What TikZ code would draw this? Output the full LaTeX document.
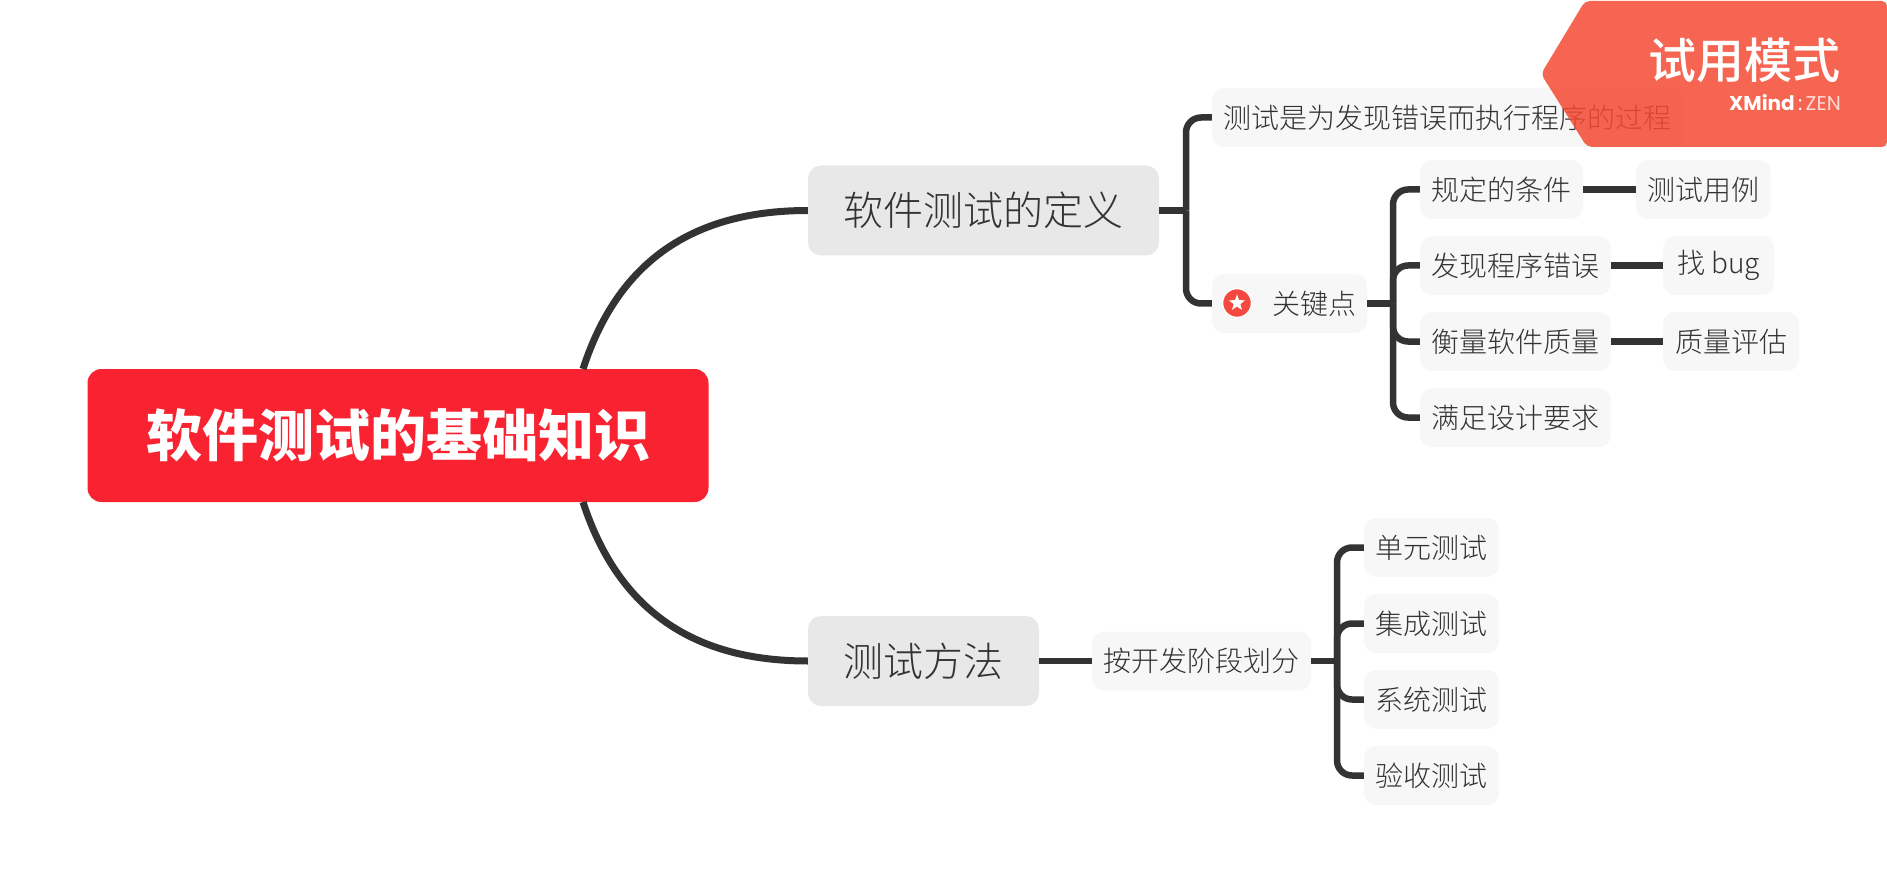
\documentclass[tikz,border=0pt]{standalone}
\usepackage{fontspec}
\setmainfont{Noto Sans CJK SC}[UprightFont={* Light}, BoldFont={* Black}]
\newfontfamily\trialfont{Noto Sans CJK SC Medium}
\newfontfamily\brandfont{Poppins}
\usetikzlibrary{shapes.geometric}

\definecolor{inkgray}{HTML}{333333}
\definecolor{rootred}{HTML}{F92230}
\definecolor{branchgray}{HTML}{E8E8E8}
\definecolor{leafgray}{HTML}{F7F7F7}
\definecolor{trialred}{HTML}{F44A32}
\definecolor{starred}{HTML}{F5483F}

\tikzset{
  rootbox/.style={fill=rootred, text=white, rounded corners=14pt, inner sep=0pt,
    font=\fontsize{56}{60}\selectfont\bfseries},
  branchbox/.style={fill=branchgray, text=inkgray, rounded corners=13pt, inner sep=0pt,
    minimum height=90pt, font=\fontsize{40}{44}\selectfont},
  leafbox/.style={fill=leafgray, text=inkgray, rounded corners=12pt, inner sep=0pt,
    minimum height=59pt, font=\fontsize{28}{32}\selectfont},
  mainlink/.style={draw=inkgray, line width=7pt},
  sublink/.style={draw=inkgray, line width=6.5pt, rounded corners=15pt},
}

\begin{document}
\begin{tikzpicture}[x=1pt, y=-1pt]

  \useasboundingbox (0,0) rectangle (1887,893);

  % --- 1. 中心主题 ---
  \node[rootbox, minimum width=621pt, minimum height=133pt] (root) at (398, 435.5) {软件测试的基础知识};
  \coordinate (rootup) at (583, 369);
  \coordinate (rootdown) at (583, 502);

  % --- 2. 分支 ---
  \node[branchbox, minimum width=351pt] (define) at (983.5, 210.5) {软件测试的定义};
  \node[branchbox, minimum width=231pt] (method) at (923.5, 661) {测试方法};

  % --- 3. 软件测试的定义 下的节点 ---
  \node[leafbox, minimum width=471pt] (purpose) at (1447.5, 117.5) {\hspace*{-1pt}测试是为发现错误而执行程序的过程};
  \node[leafbox, minimum width=155pt] (keypoint) at (1289.5, 303.5) {\hspace*{50pt}关键点};
  \node[circle, fill=starred, draw=white, line width=1.5pt, minimum size=29pt, inner sep=0pt] (badge) at (1237, 303) {};
  \node[star, star points=5, star point ratio=2.4, fill=white, minimum size=17pt, inner sep=0pt] (badgestar) at (badge.center) {};

  \node[leafbox, minimum width=163pt] (cond) at (1501.5, 189.5) {规定的条件};
  \node[leafbox, minimum width=191pt] (error) at (1515.5, 265.5) {发现程序错误};
  \node[leafbox, minimum width=191pt] (quality) at (1515.5, 341.5) {衡量软件质量};
  \node[leafbox, minimum width=191pt] (design) at (1515.5, 417.5) {满足设计要求};

  \node[leafbox, minimum width=135pt] (usecase) at (1703.5, 189.5) {测试用例};
  \node[leafbox, minimum width=111pt] (bug) at (1718.5, 265.5) {找 bug};
  \node[leafbox, minimum width=136pt] (assess) at (1731, 341.5) {质量评估};

  % --- 4. 测试方法 下的节点 ---
  \node[leafbox, minimum width=219pt] (stage) at (1201.5, 661) {按开发阶段划分};
  \node[leafbox, minimum width=135pt] (unit) at (1431.5, 547.5) {单元测试};
  \node[leafbox, minimum width=135pt] (integ) at (1431.5, 623.5) {集成测试};
  \node[leafbox, minimum width=135pt] (system) at (1431.5, 699.5) {系统测试};
  \node[leafbox, minimum width=135pt] (accept) at (1431.5, 775.5) {验收测试};

  % --- 5. 连线 ---
  \draw[mainlink] (rootup) .. controls (620, 255) and (700, 210.5) .. (define.west);
  \draw[mainlink] (rootdown) .. controls (620, 616) and (700, 661) .. (method.west);

  \coordinate (busdefine) at (1186, 210.5);
  \coordinate (buskey) at (1393, 303.5);
  \coordinate (busstage) at (1337, 661);

  \draw[sublink] (define.east) -- (busdefine);
  \draw[sublink] (busdefine) |- (purpose.west);
  \draw[sublink] (busdefine) |- (keypoint.west);

  \draw[sublink] (keypoint.east) -- (buskey);
  \foreach \n in {cond, error, quality, design}
    \draw[sublink] (buskey) |- (\n.west);

  \draw[sublink] (cond.east) -- (usecase.west);
  \draw[sublink] (error.east) -- (bug.west);
  \draw[sublink] (quality.east) -- (assess.west);

  \draw[sublink] (method.east) -- (stage.west);
  \draw[sublink] (stage.east) -- (busstage);
  \foreach \n in {unit, integ, system, accept}
    \draw[sublink] (busstage) |- (\n.west);

  % --- 6. 试用模式 角标 ---
  \fill[trialred, fill opacity=0.85, rounded corners=5pt]
    (1585, 1) -- (1887, 1) -- (1887, 147) -- (1587, 147) -- (1541, 74) -- cycle;
  \node[text=white, font=\trialfont\fontsize{48}{52}\selectfont, anchor=east, inner sep=0pt] (trial) at (1841, 60) {试用模式};
  \node[text=white, font=\brandfont\fontsize{20}{22}\selectfont, anchor=east, inner sep=0pt] (brand) at (1841, 103) {\textbf{XMind}\,:\,\textcolor{white!80!trialred}{ZEN}};

\end{tikzpicture}
\end{document}
